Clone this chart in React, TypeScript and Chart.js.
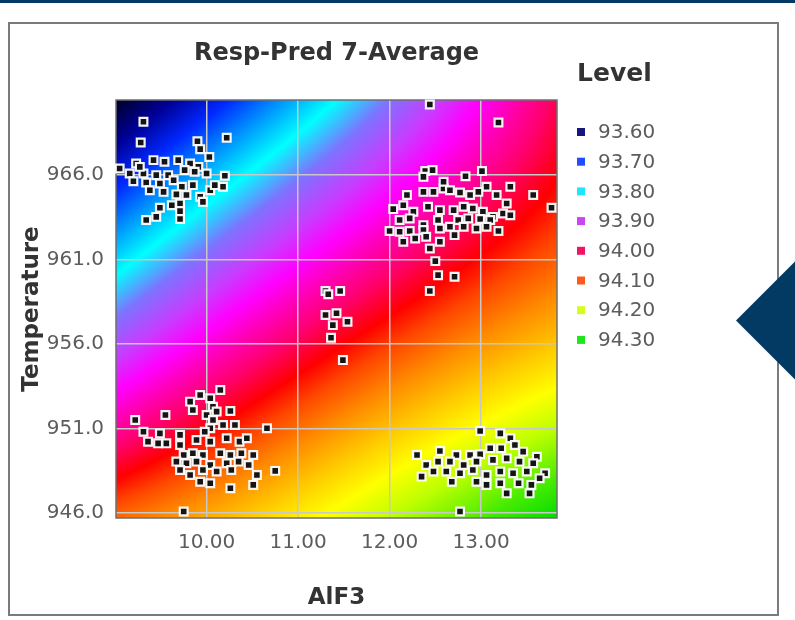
import React, { useEffect, useRef } from 'react';
import { Chart, registerables } from 'chart.js';

Chart.register(...registerables);

// ---------- text ----------
const titleText = 'Resp-Pred 7-Average';
const xTitle = 'AlF3';
const yTitle = 'Temperature';
const legendTitle = 'Level';

// ---------- axes ----------
const xTicks = [10, 11, 12, 13];
const yTicks = [946, 951, 956, 961, 966];
const xRange = [9.01, 13.83];
const yRange = [945.7, 970.45];

// ---------- legend levels ----------
const levelLabels = ['93.60', '93.70', '93.80', '93.90', '94.00', '94.10', '94.20', '94.30'];
const levelColors = ['#16167c', '#1f4dff', '#1ee6ff', '#c846f0', '#f01464', '#ff5a1e', '#d4ff1e', '#1ee61e'];

// ---------- background response surface (colour index at 3x3 nodes: rows top/mid/bottom, cols left/mid/right) ----------
const gradNodes = [
  [0.0, 2.0, 4.2],
  [2.4, 4.1, 5.3],
  [5.0, 6.1, 7.5],
];
const gradStops = [0, 0.5, 1, 1.5, 2, 2.5, 3, 3.4, 3.8, 4.1, 4.5, 4.8, 5.2, 5.6, 6, 6.4, 7, 7.5];
const gradColors = [
  [0, 0, 40], [0, 0, 150], [0, 40, 255], [0, 150, 255], [0, 255, 255], [125, 115, 255],
  [200, 60, 255], [255, 0, 255], [255, 0, 170], [255, 0, 110], [255, 0, 0], [255, 70, 0],
  [255, 140, 0], [255, 200, 0], [255, 255, 0], [190, 255, 0], [70, 235, 0], [0, 220, 0],
];

// ---------- observations (AlF3, Temperature) ----------
const tlX = [9.31, 9.28, 10.22, 9.9, 9.93, 10.03, 9.05, 9.23, 9.42, 9.54, 9.69, 9.82, 9.91, 10.0, 10.2, 9.16, 9.31, 9.45, 9.58, 9.76, 9.87, 9.2, 9.34, 9.49, 9.64, 9.73, 9.85, 10.04, 10.18, 9.38, 9.53, 9.67, 9.78, 9.93, 9.71, 9.62, 9.49, 9.34, 9.45, 9.71, 9.71, 9.96, 9.27, 10.09];
const tlY = [969.16, 967.93, 968.21, 968.01, 967.54, 967.07, 966.39, 966.69, 966.89, 966.79, 966.89, 966.69, 966.49, 966.1, 965.96, 966.1, 966.1, 966.0, 966.0, 966.3, 966.2, 965.64, 965.57, 965.51, 965.7, 965.31, 965.41, 965.11, 965.31, 965.11, 965.01, 964.86, 964.82, 964.72, 964.32, 964.22, 964.07, 963.34, 963.53, 963.87, 963.4, 964.42, 966.49, 965.41];

const trX = [12.44, 13.19, 12.39, 12.47, 13.01, 12.83, 13.06, 13.32, 13.57, 13.77, 12.19, 12.37, 12.48, 12.59, 12.66, 12.77, 12.88, 12.97, 13.17, 13.28, 13.24, 12.04, 12.15, 12.26, 12.42, 12.55, 12.7, 12.81, 12.91, 13.02, 13.13, 13.32, 12.11, 12.22, 12.37, 12.53, 12.75, 12.86, 12.99, 13.1, 12.0, 12.11, 12.22, 12.37, 12.55, 12.66, 12.81, 12.95, 13.06, 13.19, 12.15, 12.28, 12.4, 12.55, 12.71, 12.44, 12.5, 12.53, 12.71, 12.44, 12.37, 12.59];
const trY = [970.18, 969.12, 966.24, 966.3, 966.24, 965.94, 965.31, 965.31, 964.82, 964.07, 964.82, 965.01, 965.01, 965.21, 965.11, 964.97, 964.82, 965.01, 964.82, 964.32, 963.73, 963.99, 964.22, 963.83, 964.13, 963.93, 963.93, 964.13, 964.03, 963.83, 963.53, 963.63, 963.34, 963.44, 963.04, 963.34, 963.34, 963.44, 963.4, 963.34, 962.69, 962.65, 962.69, 962.75, 962.84, 962.94, 962.94, 962.84, 962.94, 962.69, 962.06, 962.25, 962.35, 962.06, 962.45, 961.66, 960.91, 960.08, 959.98, 959.14, 965.9, 965.61];

const midX = [11.3, 11.46, 11.33, 11.3, 11.42, 11.54, 11.38, 11.36, 11.49];
const midY = [959.14, 959.14, 958.95, 957.72, 957.82, 957.32, 957.12, 956.37, 955.05];

const blX = [10.15, 9.93, 10.04, 9.82, 10.07, 10.0, 9.85, 10.11, 10.26, 9.22, 9.55, 9.31, 9.49, 9.71, 10.04, 10.18, 10.31, 10.66, 9.36, 9.47, 9.56, 9.71, 9.89, 10.04, 10.22, 10.36, 10.44, 9.75, 9.85, 9.96, 10.15, 10.26, 10.38, 10.51, 9.67, 9.78, 9.89, 10.04, 10.22, 10.35, 10.46, 9.71, 9.82, 9.96, 10.11, 10.27, 10.55, 10.75, 9.93, 10.04, 10.26, 10.51, 9.98, 10.07, 9.75];
const blY = [953.28, 952.98, 952.79, 952.59, 952.29, 951.8, 952.09, 952.0, 952.04, 951.5, 951.8, 950.81, 950.71, 950.62, 951.01, 951.21, 951.21, 951.01, 950.22, 950.12, 950.12, 950.02, 950.32, 950.22, 950.42, 950.22, 950.42, 949.43, 949.53, 949.43, 949.53, 949.43, 949.53, 949.43, 949.04, 948.94, 949.04, 948.84, 948.94, 949.04, 948.84, 948.54, 948.25, 948.54, 948.45, 948.54, 948.25, 948.49, 947.85, 947.76, 947.46, 947.66, 950.81, 951.5, 946.08];

const brX = [12.99, 13.21, 13.32, 12.3, 12.55, 12.73, 12.88, 12.99, 13.1, 13.22, 13.37, 13.46, 13.61, 12.4, 12.53, 12.66, 12.81, 12.95, 13.13, 13.28, 13.42, 13.57, 13.7, 12.35, 12.48, 12.62, 12.77, 12.91, 13.06, 13.21, 13.35, 13.5, 13.64, 12.68, 12.95, 13.06, 13.21, 13.41, 13.55, 13.28, 13.53, 12.77];
const brY = [950.85, 950.71, 950.42, 949.43, 949.67, 949.43, 949.43, 949.47, 949.83, 949.83, 950.02, 949.63, 949.33, 948.84, 949.04, 949.04, 948.84, 949.04, 949.14, 949.23, 949.04, 948.94, 948.35, 948.15, 948.45, 948.45, 948.35, 948.54, 948.25, 948.45, 948.35, 948.45, 948.05, 947.85, 947.85, 947.66, 947.76, 947.76, 947.66, 947.16, 947.16, 946.08];

const FONT = '"DejaVu Sans", Verdana, sans-serif';

function pairs(xs: number[], ys: number[]) {
  return xs.map((x, i) => ({ x, y: ys[i] }));
}

function lag(u: number) {
  return [2 * (u - 0.5) * (u - 1), -4 * u * (u - 1), 2 * u * (u - 0.5)];
}

function colorAt(t: number) {
  if (t <= gradStops[0]) return gradColors[0];
  const n = gradStops.length;
  if (t >= gradStops[n - 1]) return gradColors[n - 1];
  for (let k = 0; k < n - 1; k++) {
    if (t <= gradStops[k + 1]) {
      const f = (t - gradStops[k]) / (gradStops[k + 1] - gradStops[k]);
      const a = gradColors[k], b = gradColors[k + 1];
      return [a[0] + (b[0] - a[0]) * f, a[1] + (b[1] - a[1]) * f, a[2] + (b[2] - a[2]) * f];
    }
  }
  return gradColors[n - 1];
}

const surfacePlugin = {
  id: 'surface',
  beforeDraw(chart: any) {
    const { ctx, chartArea: a, scales } = chart;
    const w = Math.round(a.right - a.left);
    const h = Math.round(a.bottom - a.top);
    const off = document.createElement('canvas');
    off.width = w;
    off.height = h;
    const octx = off.getContext('2d')!;
    const img = octx.createImageData(w, h);
    const xs = scales.x, ys = scales.y;
    for (let j = 0; j < h; j++) {
      const yv = ys.getValueForPixel(a.top + j + 0.5);
      const v = (yRange[1] - yv) / (yRange[1] - yRange[0]);
      const lv = lag(v);
      for (let i = 0; i < w; i++) {
        const xv = xs.getValueForPixel(a.left + i + 0.5);
        const u = (xv - xRange[0]) / (xRange[1] - xRange[0]);
        const lu = lag(u);
        let t = 0;
        for (let r = 0; r < 3; r++) {
          const row = gradNodes[r];
          t += lv[r] * (lu[0] * row[0] + lu[1] * row[1] + lu[2] * row[2]);
        }
        const c = colorAt(t);
        const p = (j * w + i) * 4;
        img.data[p] = c[0];
        img.data[p + 1] = c[1];
        img.data[p + 2] = c[2];
        img.data[p + 3] = 255;
      }
    }
    octx.putImageData(img, 0, 0);
    ctx.drawImage(off, a.left, a.top);
  },
  beforeDatasetsDraw(chart: any) {
    const { ctx, chartArea: a } = chart;
    ctx.save();
    ctx.strokeStyle = '#6f6f6f';
    ctx.lineWidth = 1.5;
    ctx.strokeRect(a.left, a.top, a.right - a.left, a.bottom - a.top);
    ctx.restore();
  },
  afterDraw(chart: any) {
    const { ctx, chartArea: a } = chart;
    ctx.save();
    // chart title
    ctx.fillStyle = '#333';
    ctx.font = `bold 24px ${FONT}`;
    ctx.textAlign = 'center';
    ctx.textBaseline = 'alphabetic';
    ctx.fillText(titleText, (a.left + a.right) / 2, 60);
    // legend
    ctx.textAlign = 'left';
    ctx.font = `bold 25px ${FONT}`;
    ctx.fillText(legendTitle, 577, 81);
    ctx.font = `20px ${FONT}`;
    ctx.textBaseline = 'middle';
    levelLabels.forEach((lab, i) => {
      const y = 132 + 29.7 * i;
      ctx.fillStyle = levelColors[i];
      ctx.fillRect(577, y - 4, 8, 8);
      ctx.fillStyle = '#5c5c5c';
      ctx.fillText(lab, 598, y + 1);
    });
    ctx.restore();
  },
};

export default function App() {
  const ref = useRef<HTMLCanvasElement>(null);

  useEffect(() => {
    const canvas = ref.current;
    if (!canvas) return;
    const points = [
      ...pairs(tlX, tlY),
      ...pairs(trX, trY),
      ...pairs(midX, midY),
      ...pairs(blX, blY),
      ...pairs(brX, brY),
    ];
    const chart = new Chart(canvas, {
      type: 'scatter',
      data: {
        datasets: [
          {
            data: points,
            pointStyle: 'rect',
            pointRadius: 5.5,
            pointHoverRadius: 5.5,
            pointBackgroundColor: '#141414',
            pointBorderColor: 'rgba(255,255,255,0.95)',
            pointBorderWidth: 2.2,
            clip: false,
          } as any,
        ],
      },
      options: {
        responsive: false,
        animation: false,
        events: [],
        layout: { padding: { left: 0, right: 238, top: 100, bottom: 0 } },
        plugins: {
          legend: { display: false },
          tooltip: { enabled: false },
          title: { display: false },
        },
        scales: {
          x: {
            type: 'linear',
            min: xRange[0],
            max: xRange[1],
            afterBuildTicks: (s: any) => {
              s.ticks = xTicks.map((v) => ({ value: v }));
            },
            afterFit: (s: any) => {
              s.height = 102;
            },
            grid: { color: '#c8c8c8', lineWidth: 1.5, drawTicks: false },
            border: { display: false },
            ticks: {
              padding: 13,
              color: '#5c5c5c',
              font: { family: FONT, size: 20 },
              maxRotation: 0,
              autoSkip: false,
              callback: (v: any) => Number(v).toFixed(2),
            },
            title: {
              display: true,
              text: xTitle,
              color: '#333',
              font: { family: FONT, size: 23, weight: 'bold' },
              padding: { top: 0, bottom: 8 },
            },
          },
          y: {
            type: 'linear',
            min: yRange[0],
            max: yRange[1],
            afterBuildTicks: (s: any) => {
              s.ticks = yTicks.map((v) => ({ value: v }));
            },
            afterFit: (s: any) => {
              s.width = 116;
            },
            grid: { color: '#c8c8c8', lineWidth: 1.5, drawTicks: false },
            border: { display: false },
            ticks: {
              padding: 12,
              color: '#5c5c5c',
              font: { family: FONT, size: 20 },
              autoSkip: false,
              callback: (v: any) => Number(v).toFixed(1),
            },
            title: {
              display: true,
              text: yTitle,
              color: '#333',
              font: { family: FONT, size: 23, weight: 'bold' },
              padding: { top: 18, bottom: 0 },
            },
          },
        },
      } as any,
      plugins: [surfacePlugin],
    });
    return () => chart.destroy();
  }, []);

  return (
    <div style={{ position: 'fixed', left: 0, top: 0, width: 795, height: 620, background: '#fff', overflow: 'hidden' }}>
      <div style={{ position: 'absolute', left: 0, top: 0, width: 795, height: 3, background: '#033a63' }} />
      <div
        style={{
          position: 'absolute',
          left: 8,
          top: 22,
          width: 771,
          height: 594,
          boxSizing: 'border-box',
          border: '2px solid #7b7b7b',
        }}
      />
      <canvas
        ref={ref}
        width={795}
        height={620}
        style={{ position: 'absolute', left: 0, top: 0, width: 795, height: 620, display: 'block' }}
      />
      <svg style={{ position: 'absolute', left: 0, top: 0 }} width={795} height={620}>
        <polygon points="736,320.5 796,260.5 796,380.5" fill="#033a63" />
      </svg>
    </div>
  );
}
